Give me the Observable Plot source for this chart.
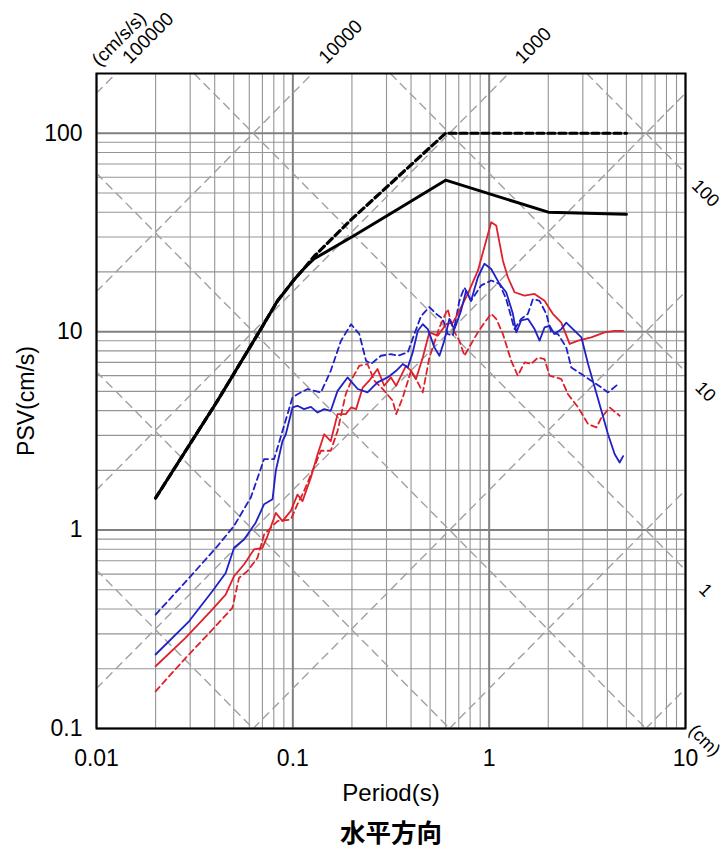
<!DOCTYPE html>
<html>
<head>
<meta charset="utf-8">
<script src="https://cdn.jsdelivr.net/npm/d3@7"></script>
<script src="https://cdn.jsdelivr.net/npm/@observablehq/plot@0.6"></script>
<style>
  html, body { margin: 0; padding: 0; background: #fff; }
  #chart svg { display: block; }
</style>
</head>
<body>
<div id="chart"></div>
<script>
// ---- Axis ticks / labels ----
const xTicks = [0.01, 0.1, 1, 10];
const xTickLabels = ["0.01", "0.1", "1", "10"];
const yTicks = [0.1, 1, 10, 100];
const yTickLabels = ["0.1", "1", "10", "100"];
const xDomain = [0.01, 10];
const yDomain = [0.1, 200];
const xLabel = "Period(s)";
const yLabel = "PSV(cm/s)";
const caption = "水平方向";

// tripartite levels
const accelLevels = [0.1, 1, 10, 100, 1000, 10000, 100000];   // cm/s/s
const accelLabels = ["", "", "", "", "1000", "10000", "100000"];
const accelUnit = "(cm/s/s)";
const dispLevels = [0.001, 0.01, 0.1, 1, 10, 100];            // cm
const dispLabels = ["", "", "", "1", "10", "100"];
const dispUnit = "(cm)";

// ---- Series: [period (s), PSV (cm/s)] ----
const designLevel2 = [[0.02,1.45],[0.0413,4.48],[0.0687,10.3],[0.0836,14.3],[0.1016,18.3],[0.115,21],[0.1285,23.3],[0.2055,30.5],[0.356,42.4],[0.6,58],[2,40],[5,39]];
const designLevel1 = [[0.02,1.45],[0.0413,4.48],[0.0687,10.3],[0.0836,14.3],[0.1016,18.3],[0.115,21],[0.1285,24],[0.2,37],[0.6,100],[5,100]];

const blueSolid = [[0.02,0.236],[0.0296,0.347],[0.0389,0.492],[0.0455,0.608],[0.0502,0.814],[0.0564,0.897],[0.0647,1.09],[0.0714,1.35],[0.0788,1.43],[0.0819,1.99],[0.0886,2.81],[0.0921,3.04],[0.0996,4.15],[0.1056,4.23],[0.114,4.07],[0.1236,4.18],[0.1337,3.91],[0.1445,4.07],[0.156,3.99],[0.169,5.03],[0.19,5.88],[0.214,5.14],[0.24,4.94],[0.27,5.55],[0.304,5.88],[0.336,6.35],[0.363,6.87],[0.385,6.6],[0.408,7.86],[0.433,10.1],[0.459,10.9],[0.487,10.3],[0.526,8.33],[0.558,7.56],[0.591,9.01],[0.627,11.6],[0.665,10.3],[0.72,12.8],[0.763,16.1],[0.809,14.3],[0.876,18.8],[0.946,22.0],[1.024,20.7],[1.129,17.4],[1.221,15.8],[1.321,12.3],[1.374,9.92],[1.456,11.4],[1.575,11.6],[1.703,10.3],[1.806,9.01],[1.914,10.5],[2.03,10.7],[2.15,9.73],[2.33,10.3],[2.47,11.1],[2.67,10.3],[2.95,9.35],[3.19,6.87],[3.45,5.23],[3.73,3.99],[4.03,3.04],[4.36,2.41],[4.62,2.19],[4.81,2.36]];

const blueDashed = [[0.02,0.375],[0.0302,0.586],[0.0413,0.83],[0.0502,1.05],[0.0611,1.46],[0.0714,2.28],[0.0803,2.28],[0.0886,3.16],[0.0996,4.66],[0.1056,4.84],[0.1189,5.14],[0.139,4.94],[0.156,6.35],[0.176,9.01],[0.198,10.9],[0.218,9.73],[0.236,7.14],[0.25,6.87],[0.281,7.56],[0.316,7.71],[0.342,7.56],[0.385,7.86],[0.416,9.73],[0.45,12.0],[0.496,13.3],[0.537,12.3],[0.58,11.6],[0.615,9.73],[0.653,9.55],[0.705,14.3],[0.748,16.7],[0.809,14.3],[0.91,17.1],[1.024,18.1],[1.129,17.4],[1.221,14.6],[1.346,10.3],[1.456,11.6],[1.575,12.3],[1.671,14.6],[1.806,14.3],[1.954,12.3],[2.07,9.92],[2.24,9.73],[2.47,8.33],[2.62,6.6],[2.95,6.11],[3.31,5.66],[3.73,5.23],[4.03,4.94],[4.54,5.44]];

const redSolid = [[0.02,0.206],[0.0284,0.286],[0.0382,0.39],[0.0455,0.473],[0.0502,0.586],[0.0564,0.671],[0.0635,0.8],[0.07,0.814],[0.0743,0.933],[0.0819,1.22],[0.0886,1.11],[0.0977,1.25],[0.1056,1.51],[0.112,1.4],[0.1236,1.84],[0.1337,2.41],[0.1445,3.04],[0.156,2.81],[0.169,3.84],[0.186,3.84],[0.198,4.15],[0.21,4.07],[0.227,5.23],[0.245,5.66],[0.27,6.48],[0.292,5.34],[0.316,5.88],[0.336,5.34],[0.377,6.73],[0.4,6.35],[0.424,5.77],[0.459,7.41],[0.496,9.92],[0.547,9.55],[0.604,10.9],[0.653,11.1],[0.692,12.3],[0.778,15.5],[0.876,20.3],[0.946,26.7],[1.024,35.6],[1.086,34.3],[1.175,22.8],[1.245,18.8],[1.346,15.8],[1.514,15.2],[1.703,15.5],[1.914,14.3],[2.11,12.3],[2.33,11.1],[2.57,8.67],[2.84,9.01],[3.31,9.35],[3.87,9.92],[4.36,10.1],[4.81,10.1]];

const redDashed = [[0.02,0.154],[0.0279,0.222],[0.0382,0.309],[0.0492,0.405],[0.0532,0.574],[0.0587,0.621],[0.0661,0.725],[0.0714,0.951],[0.0836,1.11],[0.0977,1.13],[0.1056,1.35],[0.114,1.57],[0.126,1.99],[0.139,2.51],[0.156,2.51],[0.169,3.16],[0.186,4.84],[0.202,5.88],[0.218,6.73],[0.24,6.87],[0.26,5.66],[0.287,5.14],[0.323,4.48],[0.336,3.84],[0.363,4.66],[0.4,6.35],[0.433,5.55],[0.459,4.94],[0.496,7.41],[0.558,10.5],[0.615,13.0],[0.653,10.3],[0.705,9.01],[0.748,7.56],[0.809,8.67],[0.876,9.92],[0.946,11.1],[1.024,12.3],[1.086,11.6],[1.175,9.73],[1.294,7.14],[1.4,6.0],[1.514,7.0],[1.637,6.87],[1.773,7.41],[1.914,7.28],[2.03,6.0],[2.33,5.77],[2.52,4.84],[2.84,4.15],[3.19,3.42],[3.52,3.29],[3.73,3.69],[4.11,4.15],[4.62,3.77]];

// ---- Build tables ----
const TWO_PI = 2 * Math.PI;
const gridX = [];
for (let e = -2; e <= 0; e++) for (let k = 1; k <= 9; k++) gridX.push(+(k * Math.pow(10, e)).toPrecision(3));
gridX.push(10);
const gridY = [];
for (let e = -1; e <= 1; e++) for (let k = 1; k <= 9; k++) gridY.push(+(k * Math.pow(10, e)).toPrecision(3));
gridY.push(100, 200);
const isDecade = v => Math.abs(Math.log10(v) - Math.round(Math.log10(v))) < 1e-9;

const diag = [];
accelLevels.forEach((A, i) => {
  const lo = Math.max(xDomain[0], yDomain[0] * TWO_PI / A);
  const hi = Math.min(xDomain[1], yDomain[1] * TWO_PI / A);
  if (lo < hi) { diag.push({id: "a" + i, T: lo, V: A * lo / TWO_PI}); diag.push({id: "a" + i, T: hi, V: A * hi / TWO_PI}); }
});
dispLevels.forEach((D, i) => {
  const lo = Math.max(xDomain[0], TWO_PI * D / yDomain[1]);
  const hi = Math.min(xDomain[1], TWO_PI * D / yDomain[0]);
  if (lo < hi) { diag.push({id: "d" + i, T: lo, V: TWO_PI * D / lo}); diag.push({id: "d" + i, T: hi, V: TWO_PI * D / hi}); }
});
const accelText = accelLevels.map((A, i) => ({T: yDomain[1] * TWO_PI / A, V: yDomain[1], label: accelLabels[i]})).filter(d => d.label);
const dispText = dispLevels.map((D, i) => ({T: xDomain[1], V: TWO_PI * D / xDomain[1], label: dispLabels[i]})).filter(d => d.label);

const toRows = arr => arr.map(([T, V]) => ({T, V}));
const font = "'Liberation Sans', Arial, Helvetica, sans-serif";

const chart = Plot.plot({
  width: 723,
  height: 848,
  marginTop: 73,
  marginRight: 38,
  marginBottom: 120,
  marginLeft: 96,
  style: {fontFamily: font, background: "#fff", overflow: "visible"},
  x: {type: "log", domain: xDomain},
  y: {type: "log", domain: yDomain},
  marks: [
    Plot.ruleX(gridX.filter(v => !isDecade(v)), {stroke: "#959595", strokeWidth: 1.1}),
    Plot.ruleY(gridY.filter(v => !isDecade(v)), {stroke: "#959595", strokeWidth: 1.1}),
    Plot.ruleX(gridX.filter(isDecade), {stroke: "#808080", strokeWidth: 2}),
    Plot.ruleY(gridY.filter(isDecade), {stroke: "#808080", strokeWidth: 2}),
    Plot.line(diag, {x: "T", y: "V", z: "id", stroke: "#a0a0a0", strokeWidth: 1.4, strokeDasharray: "8,6"}),
    Plot.line(toRows(redDashed), {x: "T", y: "V", stroke: "#e0202a", strokeWidth: 1.8, strokeDasharray: "6,4"}),
    Plot.line(toRows(blueDashed), {x: "T", y: "V", stroke: "#2020c8", strokeWidth: 1.8, strokeDasharray: "6,4"}),
    Plot.line(toRows(redSolid), {x: "T", y: "V", stroke: "#e0202a", strokeWidth: 1.8}),
    Plot.line(toRows(blueSolid), {x: "T", y: "V", stroke: "#2020c8", strokeWidth: 1.8}),
    Plot.line(toRows(designLevel1), {x: "T", y: "V", stroke: "#000", strokeWidth: 3.2, strokeDasharray: "7,4"}),
    Plot.line(toRows(designLevel2), {x: "T", y: "V", stroke: "#000", strokeWidth: 3}),
    Plot.frame({stroke: "#000", strokeWidth: 2}),
    Plot.axisX({ticks: xTicks, tickFormat: d => xTickLabels[xTicks.indexOf(d)], tickSize: 0, tickPadding: 21, fontSize: 23, label: null}),
    Plot.axisY({ticks: yTicks, tickFormat: d => yTickLabels[yTicks.indexOf(d)], tickSize: 0, tickPadding: 14, fontSize: 23, label: null}),
    Plot.text(accelText, {x: "T", y: "V", text: "label", rotate: -45, textAnchor: "start", lineAnchor: "middle", dx: 9.6, dy: -13, fontSize: 19, fill: "#000"}),
    Plot.text([accelUnit], {frameAnchor: "top-left", text: d => d, rotate: -45, textAnchor: "middle", lineAnchor: "middle", dx: 22.5, dy: -34.5, fontSize: 19, fill: "#000"}),
    Plot.text(dispText, {x: "T", y: "V", text: "label", rotate: 45, textAnchor: "middle", lineAnchor: "middle", dx: 20, dy: 20, fontSize: 18, fill: "#000"}),
    Plot.text([dispUnit], {frameAnchor: "bottom-right", text: d => d, rotate: 45, textAnchor: "middle", lineAnchor: "middle", dx: 19, dy: 12, fontSize: 18, fill: "#000"}),
    Plot.text([xLabel], {frameAnchor: "bottom", text: d => d, lineAnchor: "middle", dy: 65, fontSize: 24, fill: "#000"}),
    Plot.text([yLabel], {frameAnchor: "left", text: d => d, rotate: -90, textAnchor: "middle", lineAnchor: "middle", dx: -70, fontSize: 23, fill: "#000"}),
    Plot.text([caption], {frameAnchor: "bottom", text: d => d, lineAnchor: "middle", dy: 105, fontSize: 25.5, fontWeight: "bold", fontFamily: "'Noto Sans CJK JP', 'Noto Sans CJK SC', sans-serif", fill: "#000"})
  ]
});
document.getElementById("chart").appendChild(chart);
</script>
</body>
</html>
